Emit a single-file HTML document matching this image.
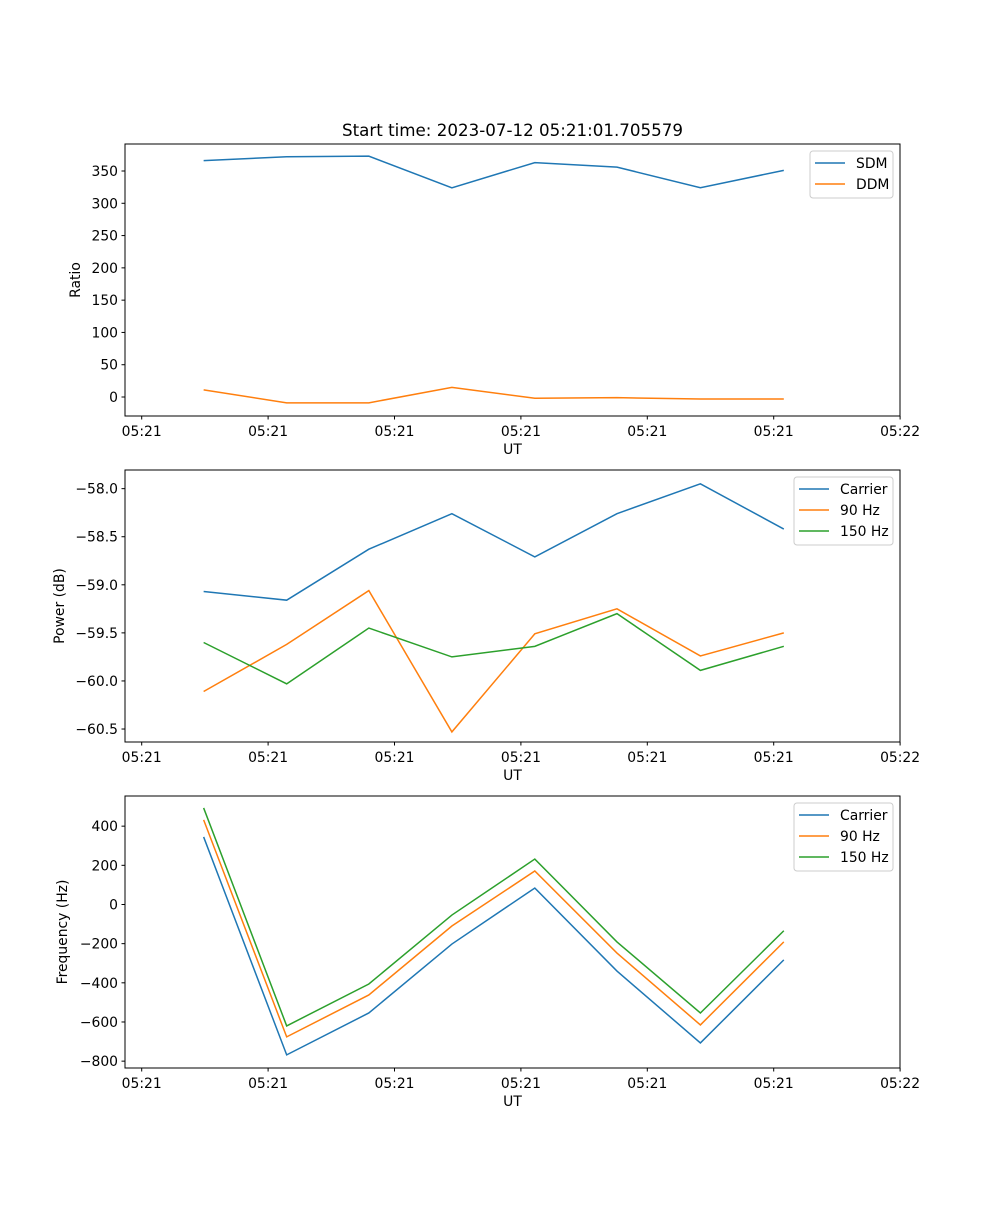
<!DOCTYPE html>
<html><head><meta charset="utf-8"><style>
body{margin:0;background:#fff}
svg text{font-family:"DejaVu Sans","Liberation Sans",sans-serif;font-size:13.9px;fill:#000}
</style></head><body>
<svg id="fig" width="1000" height="1200" xmlns="http://www.w3.org/2000/svg">
<rect width="1000" height="1200" fill="#fff"/>
<text x="512.5" y="136" text-anchor="middle" style="font-size:16.7px">Start time: 2023-07-12 05:21:01.705579</text>
</svg>
<script>
const times = [0.49, 1.147, 1.797, 2.454, 3.11, 3.76, 4.42, 5.08];
const xTicks = [0, 1, 2, 3, 4, 5, 6];
const xTickLabels = ["05:21","05:21","05:21","05:21","05:21","05:21","05:22"];
const sdm = [366, 372, 373, 324, 363, 356, 324, 351];
const ddm = [11, -9, -9, 15, -2, -1, -3, -3];
const powCarrier = [-59.07, -59.16, -58.63, -58.26, -58.71, -58.26, -57.95, -58.42];
const pow90 = [-60.11, -59.62, -59.06, -60.53, -59.51, -59.25, -59.74, -59.50];
const pow150 = [-59.60, -60.03, -59.45, -59.75, -59.64, -59.30, -59.89, -59.64];
const freqCarrier = [345, -768, -554, -202, 84, -340, -707, -283];
const freq90 = [432, -676, -462, -110, 171, -248, -615, -191];
const freq150 = [493, -620, -406, -54, 232, -191, -554, -134];
const ticks1 = [0,50,100,150,200,250,300,350];
const ticks2 = [-60.5,-60.0,-59.5,-59.0,-58.5,-58.0];
const ticks3 = [-800,-600,-400,-200,0,200,400];

const NS="http://www.w3.org/2000/svg";
const svg=document.getElementById('fig');
function mk(tag,attrs,parent){const e=document.createElementNS(NS,tag);for(const k in attrs)e.setAttribute(k,attrs[k]);(parent||svg).appendChild(e);return e;}
const L=125,R=900;
const xs=t=>141.7+t*126.4;
const C=['#1f77b4','#ff7f0e','#2ca02c'];

function panel(name,top,bot,ymin,ymax,yticks,fmt,ylabel,series,labels,legW,legX){
  const g=mk('g',{});
  
  
  const ys=v=>bot-(v-ymin)/(ymax-ymin)*(bot-top);
  series.forEach((s,i)=>{
    const p=mk('polyline',{points:s.map((v,j)=>xs(times[j])+','+ys(v)).join(' '),fill:'none',stroke:C[i],'stroke-width':1.5},g);
    
    
  });
  const fr=mk('rect',{x:L,y:top,width:R-L,height:bot-top,fill:'none',stroke:'#000','stroke-width':1},g);
  
  
  xTicks.forEach((t,i)=>{
    mk('line',{x1:xs(t),x2:xs(t),y1:bot,y2:bot+3.5,stroke:'#000'},g);
    const tx=mk('text',{x:xs(t),y:bot+20,'text-anchor':'middle'},g);tx.textContent=xTickLabels[i];
    
    
  });
  yticks.forEach(v=>{
    mk('line',{x1:L-3.5,x2:L,y1:ys(v),y2:ys(v),stroke:'#000'},g);
    const tx=mk('text',{x:L-7,y:ys(v)+5,'text-anchor':'end'},g);tx.textContent=fmt(v);
    
    
  });
  const xl=mk('text',{x:512.5,y:bot+38,'text-anchor':'middle'},g);xl.textContent='UT';
  
  
  const yx=name==='ratio-panel'?80:(name==='power-panel'?64:67);
  const yl=mk('text',{x:yx,y:(top+bot)/2,'text-anchor':'middle',transform:`rotate(-90 ${yx} ${(top+bot)/2})`},g);yl.textContent=ylabel;
  
  
  const lg=mk('g',{},g);
  
  
  mk('rect',{x:legX,y:top+7,width:legW,height:labels.length*21+5,rx:3,fill:'#fff',stroke:'#ccc'},lg);
  labels.forEach((lb,i)=>{
    const y=top+19+i*21;
    mk('line',{x1:legX+5,x2:legX+35,y1:y,y2:y,stroke:C[i],'stroke-width':1.5},lg);
    const t=mk('text',{x:legX+46,y:y+5},lg);t.textContent=lb;
    
    
  });
}
const minus=s=>s.replace('-','\u2212');
panel('ratio-panel',144,416,-29.4,391.8,ticks1,v=>minus(String(v)),'Ratio',[sdm,ddm],['SDM','DDM'],83,810);
panel('power-panel',470,742,-60.635,-57.806,ticks2,v=>minus(v.toFixed(1)),'Power (dB)',[powCarrier,pow90,pow150],['Carrier','90 Hz','150 Hz'],99,794);
panel('frequency-panel',796,1068,-835,554,ticks3,v=>minus(String(v)),'Frequency (Hz)',[freqCarrier,freq90,freq150],['Carrier','90 Hz','150 Hz'],99,794);
</script>
</body></html>
